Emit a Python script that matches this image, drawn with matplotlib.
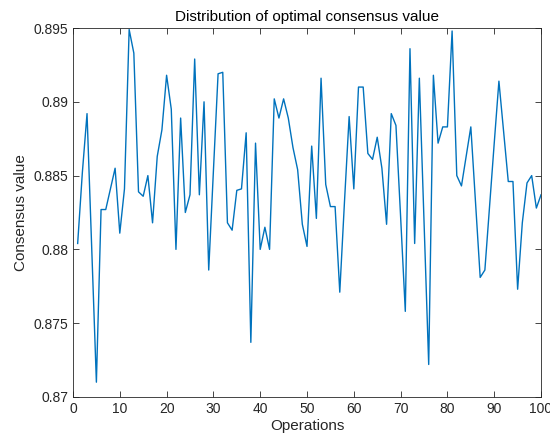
import matplotlib
matplotlib.use("Agg")
import matplotlib.pyplot as plt
import numpy as np

plt.rcParams['font.family'] = ['Liberation Sans', 'DejaVu Sans']

operations = list(range(1, 101))
consensus = [
    0.8804, 0.8852, 0.8892, 0.8801, 0.8710, 0.8827, 0.8827, 0.8841, 0.8855, 0.8811,
    0.8841, 0.8949, 0.8933, 0.8839, 0.8836, 0.8850, 0.8818, 0.8863, 0.8881, 0.8918,
    0.8895, 0.8800, 0.8889, 0.8825, 0.8837, 0.8929, 0.8837, 0.8900, 0.8786, 0.8853,
    0.8919, 0.8920, 0.8818, 0.8813, 0.8840, 0.8841, 0.8879, 0.8737, 0.8872, 0.8800,
    0.8815, 0.8800, 0.8902, 0.8889, 0.8902, 0.8889, 0.8869, 0.8854, 0.8817, 0.8802,
    0.8870, 0.8821, 0.8916, 0.8844, 0.8829, 0.8829, 0.8771, 0.8832, 0.8890, 0.8841,
    0.8910, 0.8910, 0.8865, 0.8861, 0.8876, 0.8855, 0.8817, 0.8892, 0.8884, 0.8822,
    0.8758, 0.8936, 0.8804, 0.8916, 0.8819, 0.8722, 0.8918, 0.8872, 0.8883, 0.8883,
    0.8948, 0.8850, 0.8843, 0.8863, 0.8883, 0.8832, 0.8781, 0.8786, 0.8829, 0.8872,
    0.8914, 0.8880, 0.8846, 0.8846, 0.8773, 0.8818, 0.8845, 0.8850, 0.8828, 0.8837,
]
xticks = list(range(0, 101, 10))
yticks = [0.87, 0.875, 0.88, 0.885, 0.89, 0.895]
ytick_labels = ['0.87', '0.875', '0.88', '0.885', '0.89', '0.895']

fig = plt.figure(figsize=(5.5, 4.45), dpi=100)
ax = fig.add_axes([0.1327, 0.108, 0.851, 0.829])
ax.plot(operations, consensus, color='#0072BD', linewidth=1.0)
ax.set_xlim(0, 100)
ax.set_ylim(0.87, 0.895)
ax.set_xticks(xticks)
ax.set_yticks(yticks)
ax.set_yticklabels(ytick_labels)
ax.tick_params(direction='in', length=4, width=0.6, colors='#262626', labelsize=10,
               top=True, right=True, labeltop=False, labelright=False)
for s in ax.spines.values():
    s.set_linewidth(0.6)
    s.set_color('#262626')
ax.set_title('Distribution of optimal consensus value', fontsize=11, color='black', pad=5)
ax.set_xlabel('Operations', fontsize=11, color='#262626', labelpad=2)
ax.set_ylabel('Consensus value', fontsize=11, color='#262626', labelpad=4)
fig.savefig('out.png', dpi=100)
